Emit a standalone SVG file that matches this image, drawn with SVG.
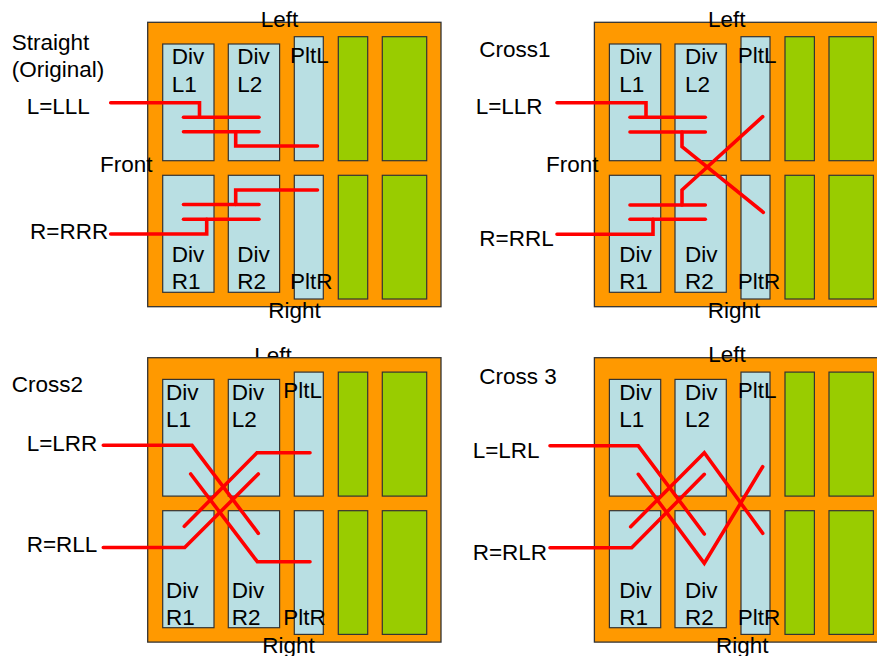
<svg xmlns="http://www.w3.org/2000/svg" width="877" height="656" viewBox="0 0 877 656">
<defs>
<style>
.bg{fill:#ff9900;stroke:#333;stroke-width:1.3}
.dv{fill:#b9dfe3;stroke:#333;stroke-width:1.2}
.gr{fill:#99cc00;stroke:#333;stroke-width:1.2}
text{font-family:"Liberation Sans",Arial,sans-serif;font-size:22.5px;fill:#000}
.w{fill:none;stroke:#ff0000;stroke-width:3.6;stroke-linecap:round;stroke-linejoin:miter}
</style>
<g id="panel">
<rect class="bg" x="147.7" y="22.3" width="293.3" height="284.4"/>
<rect class="dv" x="162.7" y="44" width="51.3" height="116.7"/>
<rect class="dv" x="228.3" y="44" width="51.3" height="116.7"/>
<rect class="dv" x="294.3" y="36.7" width="29" height="124"/>
<rect class="gr" x="338.3" y="36.7" width="29.4" height="124"/>
<rect class="gr" x="382.3" y="36.7" width="44.4" height="124"/>
<rect class="dv" x="162.7" y="175.3" width="51.3" height="117"/>
<rect class="dv" x="228.3" y="175.3" width="51.3" height="117"/>
<rect class="dv" x="294.3" y="175.3" width="29" height="123.7"/>
<rect class="gr" x="338.3" y="175.3" width="29.4" height="123.7"/>
<rect class="gr" x="382.3" y="175.3" width="44.4" height="123.7"/>
</g>
</defs>

<g id="straight">
<use href="#panel"/>
<text x="260.7" y="27.3">Left</text>
<text x="11.7" y="50">Straight</text>
<text x="11.7" y="77">(Original)</text>
<text x="26.7" y="114">L=LLL</text>
<text x="100" y="172">Front</text>
<text x="30" y="239">R=RRR</text>
<text x="171.7" y="64.3">Div</text><text x="171.7" y="91.7">L1</text>
<text x="237.3" y="64.3">Div</text><text x="237.3" y="91.7">L2</text>
<text x="290" y="62.7">PltL</text>
<text x="171.7" y="261.7">Div</text><text x="171.7" y="289.3">R1</text>
<text x="237.3" y="261.7">Div</text><text x="237.3" y="289.3">R2</text>
<text x="290" y="289.3">PltR</text>
<text x="268.3" y="318">Right</text>
</g>

<g id="cross1">
<use href="#panel" transform="translate(446.7,0)"/>
<text x="708" y="27.3">Left</text>
<text x="479.3" y="57.3">Cross1</text>
<text x="475.7" y="114">L=LLR</text>
<text x="546" y="172">Front</text>
<text x="479.3" y="246">R=RRL</text>
<text x="619.3" y="64.3">Div</text><text x="619.3" y="91.7">L1</text>
<text x="685" y="64.3">Div</text><text x="685" y="91.7">L2</text>
<text x="737.7" y="62.7">PltL</text>
<text x="619.3" y="261.7">Div</text><text x="619.3" y="289.3">R1</text>
<text x="685" y="261.7">Div</text><text x="685" y="289.3">R2</text>
<text x="737.7" y="289.3">PltR</text>
<text x="707.7" y="318">Right</text>
</g>

<g id="cross2">
<text x="254.3" y="362.5">Left</text>
<use href="#panel" transform="translate(0,335.4)"/>
<text x="11.7" y="391.7">Cross2</text>
<text x="26.7" y="450.7">L=LRR</text>
<text x="26.7" y="552.3">R=RLL</text>
<text x="166" y="400">Div</text><text x="166" y="427.3">L1</text>
<text x="231.7" y="400">Div</text><text x="231.7" y="427.3">L2</text>
<text x="283.3" y="398.3">PltL</text>
<text x="166" y="597.7">Div</text><text x="166" y="625">R1</text>
<text x="231.7" y="597.7">Div</text><text x="231.7" y="625">R2</text>
<text x="283.3" y="625">PltR</text>
<text x="262.3" y="652.7">Right</text>
</g>

<g id="cross3">
<use href="#panel" transform="translate(446.7,335.4)"/>
<text x="708.3" y="362.3">Left</text>
<text x="479.3" y="384.3">Cross 3</text>
<text x="472.7" y="457.7">L=LRL</text>
<text x="472.7" y="560">R=RLR</text>
<text x="619.3" y="400">Div</text><text x="619.3" y="427.3">L1</text>
<text x="685" y="400">Div</text><text x="685" y="427.3">L2</text>
<text x="737.7" y="398.3">PltL</text>
<text x="619.3" y="597.7">Div</text><text x="619.3" y="625">R1</text>
<text x="685" y="597.7">Div</text><text x="685" y="625">R2</text>
<text x="737.7" y="625">PltR</text>
<text x="716" y="652.7">Right</text>
</g>

<g id="connectors">
<!-- Straight -->
<polyline class="w" points="110.7,102.7 199.5,102.7 199.5,117.3"/>
<line class="w" x1="183.5" y1="117.3" x2="259" y2="117.3"/>
<line class="w" x1="183.5" y1="131.7" x2="259" y2="131.7"/>
<polyline class="w" points="235.7,131.7 235.7,146 317.5,146"/>
<polyline class="w" points="317.5,190 235.7,190 235.7,204.5"/>
<line class="w" x1="183.5" y1="204.5" x2="259" y2="204.5"/>
<line class="w" x1="183.5" y1="219.2" x2="259" y2="219.2"/>
<polyline class="w" points="206.7,219.2 206.7,234 110.7,234"/>
<!-- Cross1 -->
<polyline class="w" points="557,102.7 646,102.7 646,117.3"/>
<line class="w" x1="630" y1="117.3" x2="705.3" y2="117.3"/>
<line class="w" x1="630" y1="132" x2="705.3" y2="132"/>
<polyline class="w" points="682,132 682,146.7 763.3,212.3"/>
<polyline class="w" points="762.7,116.7 682,190 682,205"/>
<line class="w" x1="630" y1="205" x2="705.3" y2="205"/>
<line class="w" x1="630" y1="219.3" x2="705.3" y2="219.3"/>
<polyline class="w" points="653,219.3 653,234.3 557,234.3"/>
<!-- Cross2 -->
<polyline class="w" points="103.3,445.3 192,445.3 258.3,533.3"/>
<polyline class="w" points="190.7,474 257.3,561.7 310,561.7"/>
<polyline class="w" points="310,452.7 257,452.7 184.3,526.3"/>
<polyline class="w" points="103.3,547.5 184.7,547.5 258.3,474"/>
<!-- Cross3 -->
<polyline class="w" points="550,445.8 638.3,445.8 704.3,534"/>
<polyline class="w" points="638.3,474.3 704.3,563.3 762.7,466.7"/>
<polyline class="w" points="630.7,526.7 704.3,452.7 762.7,533.3"/>
<polyline class="w" points="550,547.8 631.7,547.8 704.3,474.3"/>
</g>
</svg>
